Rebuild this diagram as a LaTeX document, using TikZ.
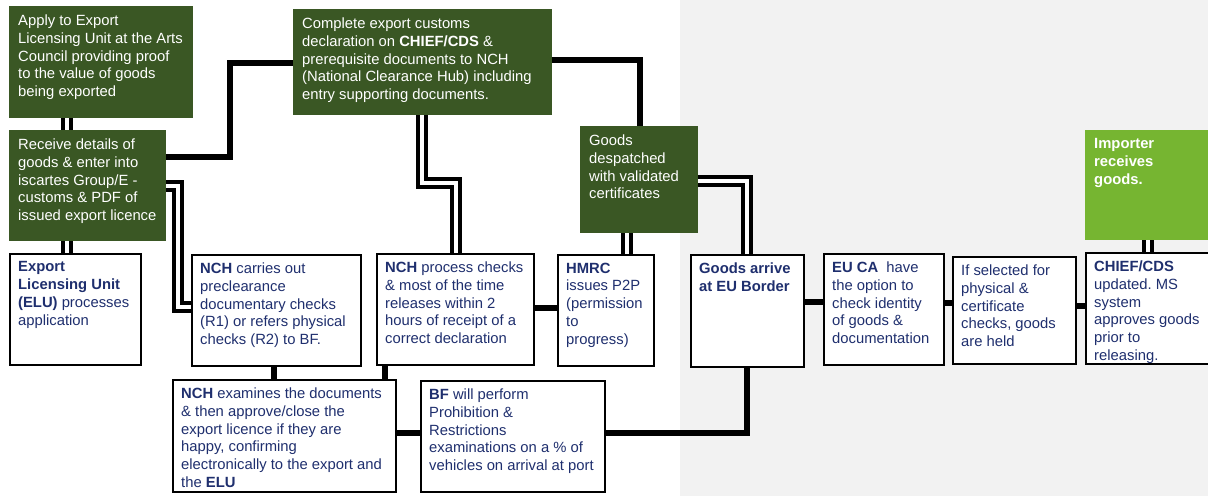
\documentclass[tikz,border=0pt]{standalone}
\usepackage{fontspec}
\setmainfont{Liberation Sans}
\usetikzlibrary{backgrounds}
\definecolor{navy}{HTML}{1F2F6E}
\definecolor{darkgrn}{HTML}{3A5724}
\definecolor{litegrn}{HTML}{76B531}
\definecolor{panel}{HTML}{F2F2F2}
\frenchspacing
\begin{document}
\begin{tikzpicture}[x=1pt, y=-1pt, font=\fontsize{14.8}{17.8}\selectfont, line join=miter,
        gbox/.style 2 args={fill=darkgrn, minimum width=#1, minimum height=#2, anchor=north west, inner sep=0pt},
        lbox/.style 2 args={fill=litegrn, minimum width=#1, minimum height=#2, anchor=north west, inner sep=0pt},
        wbox/.style 2 args={draw=black, line width=2.4pt, fill=white, minimum width=#1, minimum height=#2, anchor=north west, inner sep=0pt},
        gtxt/.style={anchor=north west, align=left, text=white, inner xsep=9pt, inner ysep=8.5pt},
        wtxt/.style={anchor=north west, align=left, text=navy, inner xsep=9pt, inner ysep=8.5pt},
        link/.style={line width=6.5pt},
        dlink/.style={line width=4pt, double=white, double distance=4.5pt}]
            \useasboundingbox (0,0) rectangle (1208,496);
            % green steps
            \node[gbox={184}{112}] (apply) at (9,6) {};
            \node[gbox={157}{111}] (receive) at (9,130) {};
            \node[gbox={259}{106}] (complete) at (293,9) {};
            \node[gbox={118}{107}] (despatch) at (580,126) {};
            \node[lbox={140}{110}] (importer) at (1085,130) {};
            % white steps
            \node[wbox={131}{111}] (elu) at (9,253) {};
            \node[wbox={169}{111}] (nchpre) at (191,254) {};
            \node[wbox={157}{111}] (nchproc) at (376,253) {};
            \node[wbox={96}{111}] (hmrc) at (557,254) {};
            \node[wbox={223}{112}] (examine) at (172,379) {};
            \node[wbox={184}{111}] (bf) at (420,380) {};
            \node[wbox={113}{112}] (arrive) at (690,254) {};
            \node[wbox={120}{111}] (euca) at (823,253) {};
            \node[wbox={123}{107}] (selected) at (952,256) {};
            \node[wbox={140}{111}] (chief) at (1085,252) {};
            % texts
            \node[gtxt] (apply-t) at (apply.north west) {Apply to Export\\Licensing Unit at the Arts\\Council providing proof\\to the value of goods\\being exported};
            \node[gtxt] (receive-t) at (receive.north west) {Receive details of\\goods \& enter into\\iscartes Group/E -\\customs \& PDF of\\issued export licence};
            \node[gtxt] (complete-t) at (complete.north west) {Complete export customs\\declaration on \textbf{CHIEF/CDS} \&\\prerequisite documents to NCH\\(National Clearance Hub) including\\entry supporting documents.};
            \node[gtxt] (despatch-t) at (despatch.north west) {Goods\\despatched\\with validated\\certificates};
            \node[gtxt, font=\fontsize{14.8}{17.8}\selectfont\bfseries] (importer-t) at (importer.north west) {Importer\\receives\\goods.};
            \node[wtxt] (elu-t) at (elu.north west) {\textbf{Export}\\\textbf{Licensing Unit}\\\textbf{(ELU)} processes\\application};
            \node[wtxt] (nchpre-t) at (nchpre.north west) {\textbf{NCH} carries out\\preclearance\\documentary checks\\(R1) or refers physical\\checks (R2) to BF.};
            \node[wtxt] (nchproc-t) at (nchproc.north west) {\textbf{NCH} process checks\\\& most of the time\\releases within 2\\hours of receipt of a\\correct declaration};
            \node[wtxt] (hmrc-t) at (hmrc.north west) {\textbf{HMRC}\\issues P2P\\(permission\\to\\progress)};
            \node[wtxt] (examine-t) at (examine.north west) {\textbf{NCH} examines the documents\\\& then approve/close the\\export licence if they are\\happy, confirming\\electronically to the export and\\the \textbf{ELU}};
            \node[wtxt] (bf-t) at (bf.north west) {\textbf{BF} will perform\\Prohibition \&\\Restrictions\\examinations on a \% of\\vehicles on arrival at port};
            \node[wtxt] (arrive-t) at (arrive.north west) {\textbf{Goods arrive}\\\textbf{at EU Border}};
            \node[wtxt] (euca-t) at (euca.north west) {\textbf{EU CA}\ \ have\\the option to\\check identity\\of goods \&\\documentation};
            \node[wtxt] (selected-t) at (selected.north west) {If selected for\\physical \&\\certificate\\checks, goods\\are held};
            \node[wtxt] (chief-t) at (chief.north west) {\textbf{CHIEF/CDS}\\updated. MS\\system\\approves goods\\prior to\\releasing.};
            % links
            \begin{scope}[on background layer]
                \fill[panel] (680,0) rectangle (1208,496);
                \draw[dlink] ([xshift=58pt]apply.south west) -- ([xshift=58pt]receive.north west);
                \draw[dlink] ([xshift=58pt]receive.south west) -- ([xshift=58pt]elu.north west);
                \draw[dlink] ([yshift=-56pt]receive.north east) -- (178,186) -- (178,307) -- ([yshift=-53pt]nchpre.north west);
                \draw[link] ([yshift=-27pt]receive.north east) -- (230,157) -- (230,63) -- ([yshift=-54pt]complete.north west);
                \draw[dlink] ([xshift=129pt]complete.south west) -- (422,183) -- (456,183) -- ([xshift=80pt]nchproc.north west);
                \draw[link] ([yshift=-51pt]complete.north east) -| ([xshift=60pt]despatch.north west);
                \draw[dlink] ([xshift=47pt]despatch.south west) -- ([xshift=70pt]hmrc.north west);
                \draw[dlink] ([yshift=-55pt]despatch.north east) -| ([xshift=57pt]arrive.north west);
                \draw[link] ([yshift=-55pt]nchproc.north east) -- ([yshift=-54pt]hmrc.north west);
                \draw[link] ([xshift=83pt]nchpre.south west) -- ([xshift=102pt]examine.north west);
                \draw[link] ([xshift=9pt]nchproc.south west) -- ([xshift=213pt]examine.north west);
                \draw[link] ([yshift=-54pt]examine.north east) -- ([yshift=-53pt]bf.north west);
                \draw[link] ([yshift=-53pt]bf.north east) -| ([xshift=57pt]arrive.south west);
                \draw[link] ([yshift=-48pt]arrive.north east) -- ([yshift=-49pt]euca.north west);
                \draw[link] ([yshift=-50pt]euca.north east) -- ([yshift=-47pt]selected.north west);
                \draw[link] ([yshift=-50pt]selected.north east) -- ([yshift=-54pt]chief.north west);
                \draw[dlink] ([xshift=63pt]importer.south west) -- ([xshift=63pt]chief.north west);
            \end{scope}
        \end{tikzpicture}
\end{document}
